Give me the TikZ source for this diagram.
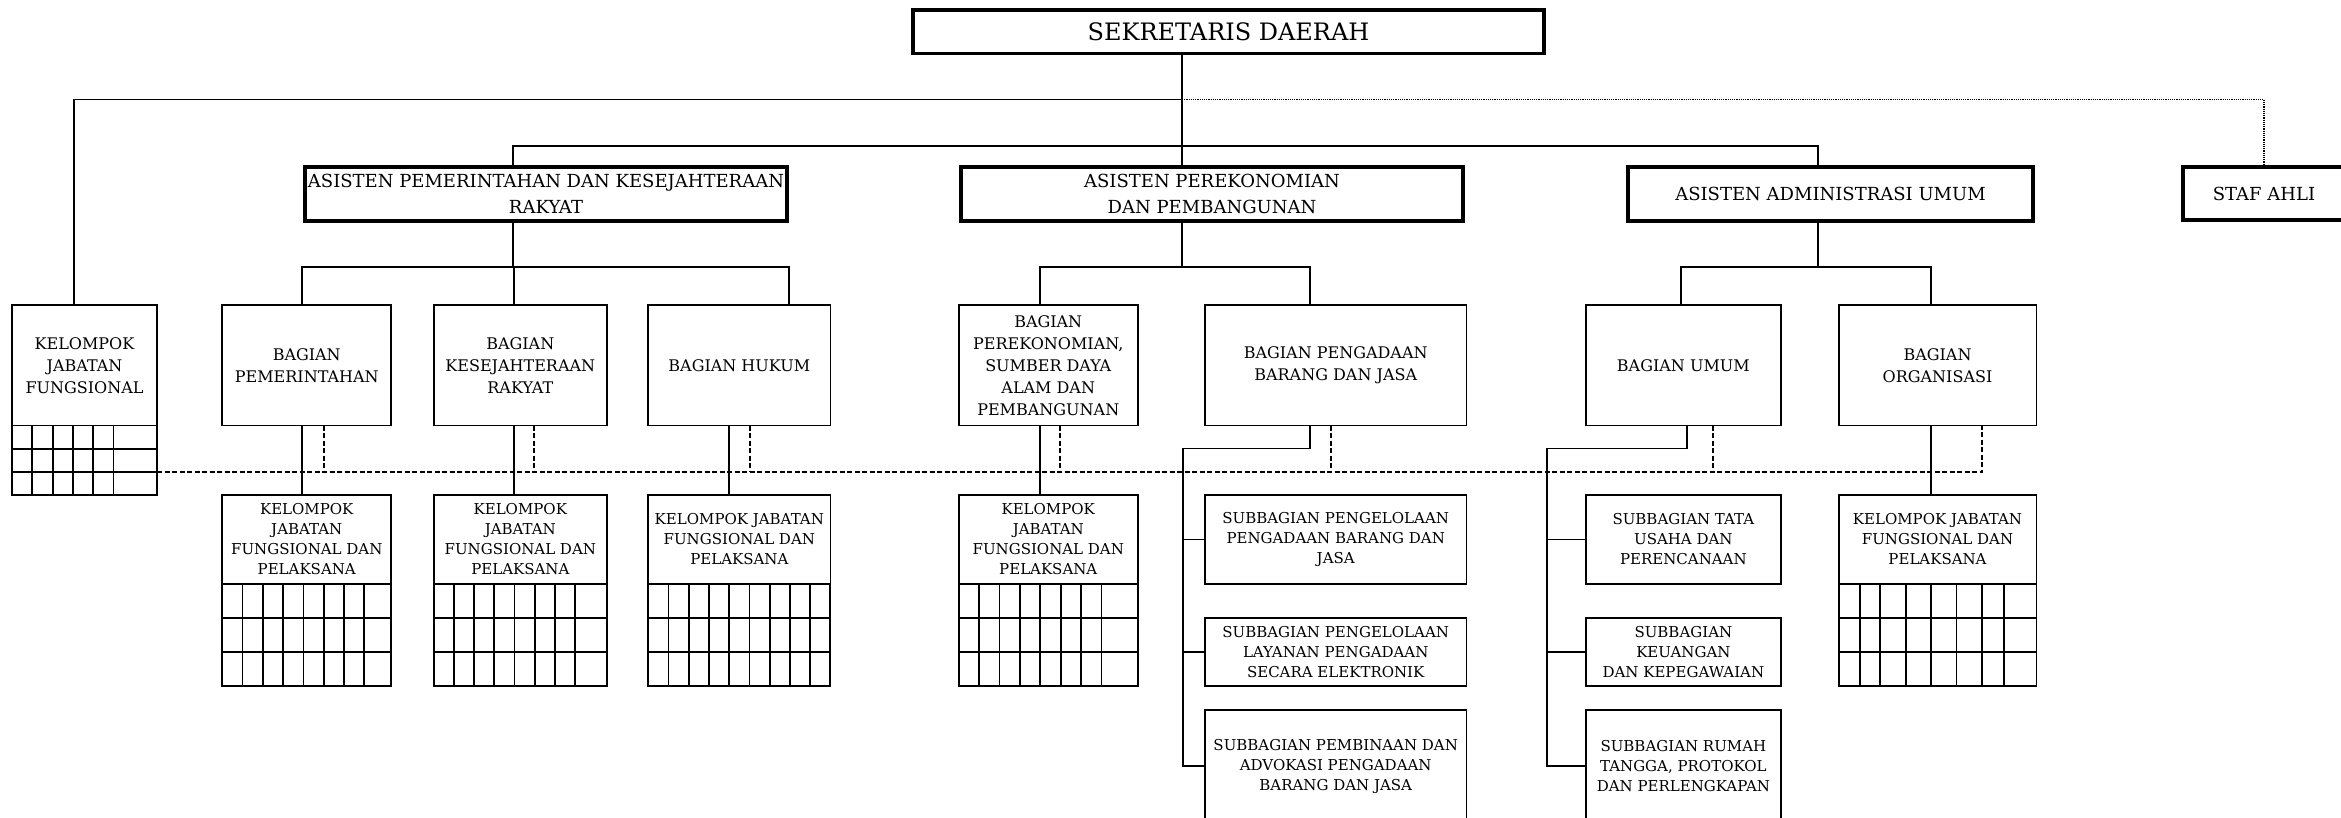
\documentclass[tikz,border=0pt]{standalone}
\usepackage{fontspec}
\setmainfont{DejaVu Serif}
\usepackage{tikz}
\usetikzlibrary{matrix,positioning}

\tikzset{
	box/.style={draw, line width=1.8pt, inner sep=0pt, outer sep=0pt, align=center, font=\fontsize{16}{22}\selectfont},
	headbox/.style={box, line width=3.2pt, minimum height=54pt, font=\fontsize{18}{26}\selectfont},
	bagian/.style={box, minimum height=120.5pt},
	smallbox/.style={box, font=\fontsize{15}{20}\selectfont},
	conn/.style={line width=1.8pt},
	dashconn/.style={line width=1.5pt, dash pattern=on 5pt off 2.5pt},
	dotconn/.style={line width=1.2pt, dash pattern=on 1.2pt off 1pt},
	cellgrid/.style={matrix of nodes, nodes in empty cells, anchor=north west, inner sep=0pt, outer sep=0pt,
		column sep=-1.8pt, row sep=-1.8pt,
		nodes={draw, line width=1.8pt, inner sep=0pt, outer sep=0.9pt, minimum width=20.3pt, minimum height=34pt}}
}

\begin{document}
\begin{tikzpicture}[x=1pt, y=-1pt]
	\useasboundingbox (0,0) rectangle (2341,818);

	% pimpinan
	\node[headbox, minimum width=631pt, minimum height=43.5pt, font=\fontsize{24}{28}\selectfont] (sekda) at (1228.5,31.75) {SEKRETARIS DAERAH};
	\node[headbox, minimum width=482pt] (asis1) at (546,194) {ASISTEN PEMERINTAHAN DAN KESEJAHTERAAN\\RAKYAT};
	\node[headbox, minimum width=502pt] (asis2) at (1212,194) {ASISTEN PEREKONOMIAN\\DAN PEMBANGUNAN};
	\node[headbox, minimum width=405pt] (asis3) at (1830.5,194) {ASISTEN ADMINISTRASI UMUM};
	\node[headbox, minimum width=162pt, minimum height=53pt] (staf) at (2264,193.5) {STAF AHLI};

	% bagian
	\node[bagian, minimum width=145pt] (kjf) at (84.5,365.25) {KELOMPOK\\JABATAN\\FUNGSIONAL};
	\node[bagian, minimum width=169.1pt] (bpem) at (306.75,365.25) {BAGIAN\\PEMERINTAHAN};
	\node[bagian, minimum width=173.4pt] (bkes) at (520.3,365.25) {BAGIAN\\KESEJAHTERAAN\\RAKYAT};
	\node[bagian, minimum width=182.2pt] (bhuk) at (739.3,365.25) {BAGIAN HUKUM};
	\node[bagian, minimum width=179.3pt] (bpsda) at (1048.25,365.25) {BAGIAN\\PEREKONOMIAN,\\SUMBER DAYA\\ALAM DAN\\PEMBANGUNAN};
	\node[bagian, minimum width=261.4pt] (bpbj) at (1335.7,365.25) {BAGIAN PENGADAAN\\BARANG DAN JASA};
	\node[bagian, minimum width=195.3pt] (bumum) at (1683.35,365.25) {BAGIAN UMUM};
	\node[bagian, minimum width=197.8pt] (borg) at (1937.5,365.25) {BAGIAN\\ORGANISASI};

	% kelompok jabatan fungsional dan pelaksana
	\node[smallbox, minimum width=169.1pt, minimum height=89pt, below=69.5pt of bpem] (kjfp1) {KELOMPOK\\JABATAN\\FUNGSIONAL DAN\\PELAKSANA};
	\node[smallbox, minimum width=173.4pt, minimum height=89pt, below=69.5pt of bkes] (kjfp2) {KELOMPOK\\JABATAN\\FUNGSIONAL DAN\\PELAKSANA};
	\node[smallbox, minimum width=182.2pt, minimum height=89pt, below=69.5pt of bhuk] (kjfp3) {KELOMPOK JABATAN\\FUNGSIONAL DAN\\PELAKSANA};
	\node[smallbox, minimum width=179.3pt, minimum height=89pt, below=69.5pt of bpsda] (kjfp4) {KELOMPOK\\JABATAN\\FUNGSIONAL DAN\\PELAKSANA};
	\node[smallbox, minimum width=197.8pt, minimum height=89pt, below=69.5pt of borg] (kjfp5) {KELOMPOK JABATAN\\FUNGSIONAL DAN\\PELAKSANA};

	% subbagian
	\node[smallbox, minimum width=261.4pt, minimum height=89pt, below=69.5pt of bpbj] (sb1) {SUBBAGIAN PENGELOLAAN\\PENGADAAN BARANG DAN\\JASA};
	\node[smallbox, minimum width=261.4pt, minimum height=68pt, below=34pt of sb1] (sb2) {SUBBAGIAN PENGELOLAAN\\LAYANAN PENGADAAN\\SECARA ELEKTRONIK};
	\node[smallbox, minimum width=261.4pt, minimum height=112pt, below=24pt of sb2] (sb3) {SUBBAGIAN PEMBINAAN DAN\\ADVOKASI PENGADAAN\\BARANG DAN JASA};
	\node[smallbox, minimum width=195.3pt, minimum height=89pt, below=69.5pt of bumum] (st1) {SUBBAGIAN TATA\\USAHA DAN\\PERENCANAAN};
	\node[smallbox, minimum width=195.3pt, minimum height=68pt, below=34pt of st1] (st2) {SUBBAGIAN\\KEUANGAN\\DAN KEPEGAWAIAN};
	\node[smallbox, minimum width=195.3pt, minimum height=112pt, below=24pt of st2] (st3) {SUBBAGIAN RUMAH\\TANGGA, PROTOKOL\\DAN PERLENGKAPAN};

	% kotak-kotak
	\matrix (g0) [cellgrid, nodes={minimum height=23.2pt}, column 6/.style={nodes={minimum width=43.4pt}}] at ([xshift=-0.9pt,yshift=0.9pt]kjf.south west) {
		&&&&& \\
		&&&&& \\
		&&&&& \\
	};
	\matrix (g1) [cellgrid, column 8/.style={nodes={minimum width=27pt}}] at ([xshift=-0.9pt,yshift=0.9pt]kjfp1.south west) {
		&&&&&&& \\
		&&&&&&& \\
		&&&&&&& \\
	};
	\matrix (g2) [cellgrid, nodes={minimum width=20.2pt}, column 8/.style={nodes={minimum width=32pt}}] at ([xshift=-0.9pt,yshift=0.9pt]kjfp2.south west) {
		&&&&&&& \\
		&&&&&&& \\
		&&&&&&& \\
	};
	\matrix (g3) [cellgrid, nodes={minimum width=20.24pt}] at ([xshift=-0.9pt,yshift=0.9pt]kjfp3.south west) {
		&&&&&&&& \\
		&&&&&&&& \\
		&&&&&&&& \\
	};
	\matrix (g4) [cellgrid, nodes={minimum width=20.4pt}, column 8/.style={nodes={minimum width=36.5pt}}] at ([xshift=-0.9pt,yshift=0.9pt]kjfp4.south west) {
		&&&&&&& \\
		&&&&&&& \\
		&&&&&&& \\
	};
	\matrix (g5) [cellgrid, column 1/.style={nodes={minimum width=21pt}}, column 2/.style={nodes={minimum width=20pt}},
		column 3/.style={nodes={minimum width=26.4pt}}, column 4/.style={nodes={minimum width=25.2pt}},
		column 5/.style={nodes={minimum width=25.2pt}}, column 6/.style={nodes={minimum width=25.4pt}},
		column 7/.style={nodes={minimum width=21.8pt}}, column 8/.style={nodes={minimum width=32.8pt}}]
		at ([xshift=-0.9pt,yshift=0.9pt]kjfp5.south west) {
		&&&&&&& \\
		&&&&&&& \\
		&&&&&&& \\
	};

	% garis
	\coordinate (j0) at (1182,99.5);
	\coordinate (j1) at (74,99.5);
	\coordinate (j2) at (513,146);
	\coordinate (j3) at (1818,146);
	\coordinate (bus1) at (0,267);
	\coordinate (sbus) at (0,448.5);
	\coordinate (dbus) at (0,472);

	\draw[conn] (sekda.south -| j0) -- (asis2.north -| j0);
	\draw[conn] (j0) -- (j1) -- (kjf.north -| j1);
	\draw[dotconn] (j0) -| (staf.north);
	\draw[conn] (asis1.north -| j2) -- (j2) -- (j3) -- (asis3.north -| j3);

	\draw[conn] (asis1.south -| j2) -- (j2 |- bus1);
	\draw[conn] ([xshift=-4.75pt]bpem.north) |- ([xshift=49.7pt]bhuk.north |- bus1) -- ([xshift=49.7pt]bhuk.north);
	\draw[conn] ([xshift=-6.3pt]bkes.north) -- ([xshift=-6.3pt]bkes.north |- bus1);
	\draw[conn] (asis2.south -| j0) -- (j0 |- bus1);
	\draw[conn] ([xshift=-8.25pt]bpsda.north) |- ([xshift=-25.7pt]bpbj.north |- bus1) -- ([xshift=-25.7pt]bpbj.north);
	\draw[conn] (asis3.south -| j3) -- (j3 |- bus1);
	\draw[conn] ([xshift=-2.35pt]bumum.north) |- ([xshift=-6.5pt]borg.north |- bus1) -- ([xshift=-6.5pt]borg.north);

	\draw[conn] ([xshift=-4.75pt]bpem.south) -- ([xshift=-4.75pt]kjfp1.north);
	\draw[conn] ([xshift=-6.3pt]bkes.south) -- ([xshift=-6.3pt]kjfp2.north);
	\draw[conn] ([xshift=-10.3pt]bhuk.south) -- ([xshift=-10.3pt]kjfp3.north);
	\draw[conn] ([xshift=-8.25pt]bpsda.south) -- ([xshift=-8.25pt]kjfp4.north);
	\draw[conn] ([xshift=-6.5pt]borg.south) -- ([xshift=-6.5pt]kjfp5.north);

	\draw[conn] ([xshift=-25.7pt]bpbj.south) |- ([xshift=-22pt]sb1.west |- sbus) |- (sb3.west);
	\draw[conn] (sb1.west) -- ++(-22,0);
	\draw[conn] (sb2.west) -- ++(-22,0);
	\draw[conn] ([xshift=3.65pt]bumum.south) |- ([xshift=-38.7pt]st1.west |- sbus) |- (st3.west);
	\draw[conn] (st1.west) -- ++(-38.7,0);
	\draw[conn] (st2.west) -- ++(-38.7,0);

	\draw[dashconn] (kjf.east |- dbus) -| ([xshift=44.5pt]borg.south);
	\draw[dashconn] ([xshift=17.25pt]bpem.south) -- ([xshift=17.25pt]bpem.south |- dbus);
	\draw[dashconn] ([xshift=13.7pt]bkes.south) -- ([xshift=13.7pt]bkes.south |- dbus);
	\draw[dashconn] ([xshift=10.7pt]bhuk.south) -- ([xshift=10.7pt]bhuk.south |- dbus);
	\draw[dashconn] ([xshift=11.75pt]bpsda.south) -- ([xshift=11.75pt]bpsda.south |- dbus);
	\draw[dashconn] ([xshift=-4.7pt]bpbj.south) -- ([xshift=-4.7pt]bpbj.south |- dbus);
	\draw[dashconn] ([xshift=29.65pt]bumum.south) -- ([xshift=29.65pt]bumum.south |- dbus);
\end{tikzpicture}
\end{document}
